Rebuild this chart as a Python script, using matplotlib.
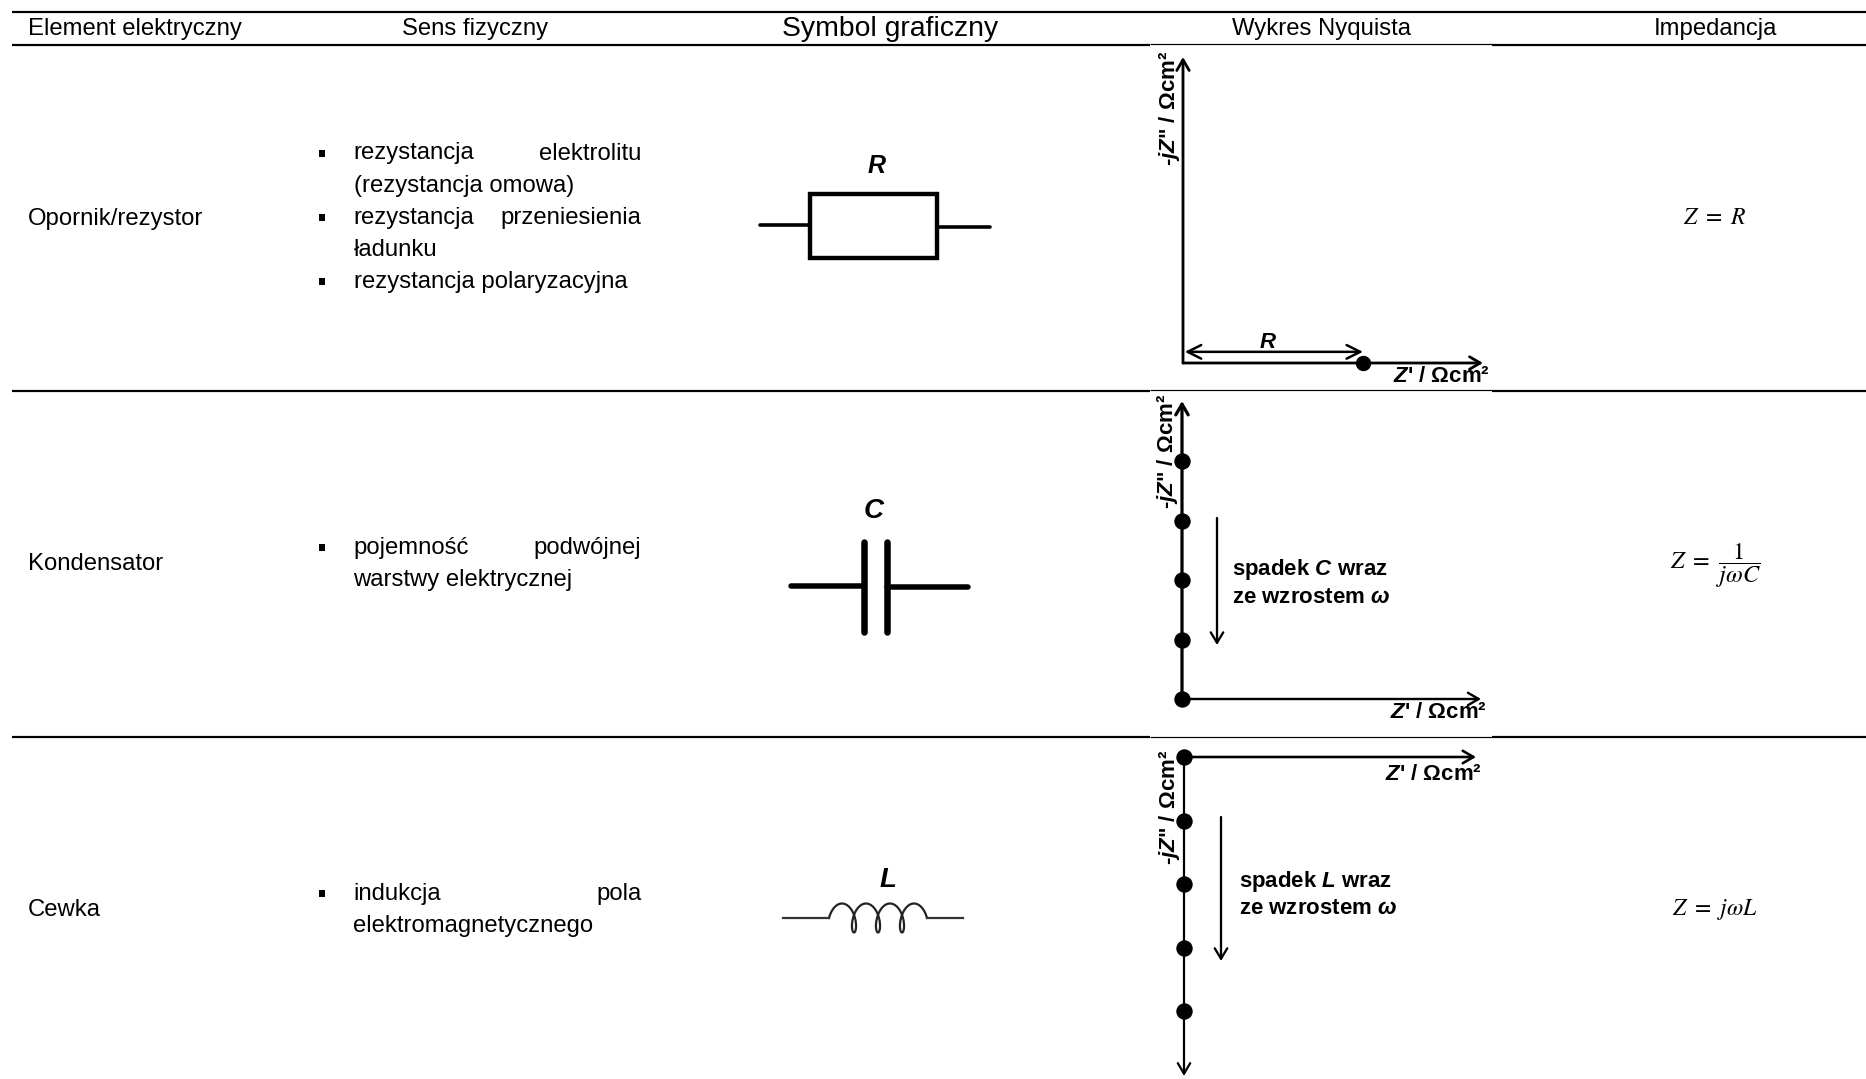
import numpy as np
import matplotlib
matplotlib.use('Agg')
import matplotlib.pyplot as plt
from matplotlib.patches import Rectangle

plt.rcParams['font.family'] = ['Liberation Sans', 'DejaVu Sans']
plt.rcParams['mathtext.fontset'] = 'custom'
plt.rcParams['mathtext.rm'] = 'Liberation Sans:bold'
plt.rcParams['mathtext.bf'] = 'Liberation Sans:bold'
plt.rcParams['mathtext.bfit'] = 'Liberation Sans:italic:bold'
plt.rcParams['mathtext.it'] = 'Liberation Sans:italic:bold'

# =============================================================================
# Dane tabeli
# =============================================================================
HEADERS = ['Element elektryczny', 'Sens fizyczny', 'Symbol graficzny',
           'Wykres Nyquista', 'Impedancja']
ELEMENTS = ['Opornik/rezystor', 'Kondensator', 'Cewka']
IMPEDANCE = [r'$Z\ =\ R$', r'$Z\ =\ \dfrac{1}{j\omega C}$', r'$Z\ =\ j\omega L$']

# (tekst, punktor, justowanie)
MEANING_R = [('rezystancja elektrolitu', True, True),
             ('(rezystancja omowa)', False, False),
             ('rezystancja przeniesienia', True, True),
             ('ładunku', False, False),
             ('rezystancja polaryzacyjna', True, False)]
MEANING_C = [('pojemność podwójnej', True, True),
             ('warstwy elektrycznej', False, False)]
MEANING_L = [('indukcja pola', True, True),
             ('elektromagnetycznego', False, False)]

# Punkty na wykresach Nyquista (jednostki umowne)
R_Z_RE = [1.0]
R_Z_IM = [0.0]
C_Z_RE = [0, 0, 0, 0, 0]
C_Z_IM = [0, 1, 2, 3, 4]
L_Z_RE = [0, 0, 0, 0, 0]
L_Z_IM = [0, -1, -2, -3, -4]

# =============================================================================
W, H = 1866, 1079
PX = 0.72  # 1 px w punktach przy dpi=100
FS = 17.2
BOLD_FS = 16.0

fig = plt.figure(figsize=(W / 100, H / 100), dpi=100)
ax = fig.add_axes([0, 0, 1, 1])
ax.set_xlim(0, W)
ax.set_ylim(H, 0)
ax.axis('off')


def rule(y, inner_thin=True):
    if inner_thin:
        ax.plot([12, 1150], [y, y], color='black', lw=2.2 * PX, solid_capstyle='butt')
        ax.plot([1150, 1492], [y - 0.3, y - 0.3], color='black', lw=1.2 * PX, solid_capstyle='butt')
        ax.plot([1492, W], [y, y], color='black', lw=2.2 * PX, solid_capstyle='butt')
    else:
        ax.plot([12, W], [y, y], color='black', lw=2.2 * PX, solid_capstyle='butt')


def meaning(lines, first_y, step=32.2):
    left, right = 353.5, 641.5
    for i, (txt, bullet, justify) in enumerate(lines):
        y = first_y + i * step
        if bullet:
            ax.add_patch(Rectangle((319, y - 4), 6, 7, color='black', lw=0))
        if justify:
            a, b = txt.rsplit(' ', 1)
            ax.text(left, y, a, fontsize=FS, ha='left', va='center')
            ax.text(right, y, b, fontsize=FS, ha='right', va='center')
        else:
            ax.text(left, y, txt, fontsize=FS, ha='left', va='center')


def panel(x0, y0, x1, y1, xmax, ymax, lw_x=2.8, lw_y=2.8):
    # Osobne osie dla wykresu Nyquista, poczatek ukladu w (x0, y0) w pikselach
    top, bottom = min(y0, y1), max(y0, y1)
    a = fig.add_axes([x0 / W, 1 - bottom / H, (x1 - x0) / W, (bottom - top) / H])
    a.set_xlim(0, xmax)
    a.set_ylim(*((0, ymax) if ymax > 0 else (ymax, 0)))
    a.axis('off')
    a.patch.set_alpha(0)
    style = dict(arrowstyle='->,head_length=0.55,head_width=0.32', color='black',
                 shrinkA=0, shrinkB=0, mutation_scale=14)
    a.annotate('', xy=(xmax, 0), xytext=(0, 0), arrowprops=dict(lw=lw_x * PX, **style), annotation_clip=False)
    a.annotate('', xy=(0, ymax), xytext=(0, 0), arrowprops=dict(lw=lw_y * PX, **style), annotation_clip=False)
    return a


def small_arrow(x, y0, y1):
    ax.annotate('', xy=(x, y1), xytext=(x, y0), annotation_clip=False,
                arrowprops=dict(arrowstyle='->,head_length=0.5,head_width=0.3', lw=2.3 * PX,
                                color='black', shrinkA=0, shrinkB=0, mutation_scale=15))


def labels(zx, zy, yx, yy):
    ax.text(zx, zy, '$\\mathbfit{Z}$\' / Ωcm²', fontsize=BOLD_FS, fontweight='bold', ha='right', va='center')
    ax.text(yx, yy, '-$\\mathbfit{jZ}$" / Ωcm²', fontsize=BOLD_FS, fontweight='bold',
            rotation=90, ha='center', va='center')


# Linie poziome i naglowki
rule(12, inner_thin=False)
for y in [44.7, 390.5, 737]:
    rule(y)

ax.text(28, 29, HEADERS[0], fontsize=FS, ha='left', va='center')
for name, cx, fs in zip(HEADERS[1:], [475, 890, 1321, 1715], [FS, 20.4, FS, FS]):
    ax.text(cx, 29, name, fontsize=fs, ha='center', va='center')

# Pierwsza kolumna i impedancja
for name, y in zip(ELEMENTS, [218.5, 564.5, 909.5]):
    ax.text(28, y, name, fontsize=FS, ha='left', va='center')
for formula, y, fs in zip(IMPEDANCE, [218, 566, 909], [17, 17.5, 17]):
    ax.text(1715, y, formula, fontsize=fs, ha='center', va='center', math_fontfamily='stix')

meaning(MEANING_R, 153.5)
meaning(MEANING_C, 548)
meaning(MEANING_L, 894)

# Symbole graficzne: opornik
sym = dict(color='black', solid_capstyle='round')
ax.add_patch(Rectangle((810, 194), 127, 64, fill=False, ec='black', lw=4.4 * PX))
ax.plot([760, 810], [225, 225], lw=3.6 * PX, **sym)
ax.plot([937, 990], [227, 227], lw=3.6 * PX, **sym)
ax.text(877, 166, 'R', fontsize=18, fontweight='bold', style='italic', ha='center', va='center')

# kondensator
ax.plot([864, 864], [542, 632], lw=6.5 * PX, **sym)
ax.plot([887, 887], [542, 632], lw=6.5 * PX, **sym)
ax.plot([791, 864], [586, 586], lw=5.5 * PX, **sym)
ax.plot([887, 968], [587, 587], lw=5.5 * PX, **sym)
ax.text(874, 511, 'C', fontsize=20, fontweight='bold', style='italic', ha='center', va='center')

# cewka
t = np.linspace(-np.pi / 2, 6.5 * np.pi, 500)
coil_x = 842 + 24 / (2 * np.pi) * t + 7 * np.sin(t)
coil_y = 918 - 14.5 * np.cos(t)
ax.plot(coil_x, coil_y, color='#222222', lw=2.2 * PX)
ax.plot([783, coil_x[0]], [918, 918], color='#333333', lw=2.2 * PX)
ax.plot([coil_x[-1], 963], [918, 918], color='#333333', lw=2.2 * PX)
ax.text(888, 880, 'L', fontsize=20, fontweight='bold', style='italic', ha='center', va='center')

# Wykres Nyquista: opornik
a1 = panel(1183, 363, 1483, 57, 300 / 180, 306 / 180)
a1.plot(R_Z_RE, R_Z_IM, 'o', color='black', ms=14 * PX, clip_on=False, zorder=5)
a1.annotate('', xy=(1.0, 0.062), xytext=(0.01, 0.062), annotation_clip=False,
            arrowprops=dict(arrowstyle='<->,head_length=0.7,head_width=0.35', lw=2.5 * PX, color='black',
                            shrinkA=0, shrinkB=0, mutation_scale=14))
ax.text(1268, 342, 'R', fontsize=16, fontweight='bold', style='italic', ha='center', va='center')
labels(1490, 377, 1169, 108)

# kondensator
a2 = panel(1182, 699, 1481, 401, 5, 298 / 59.5, lw_x=2.4, lw_y=3.2)
a2.plot(C_Z_RE, C_Z_IM, 'o', color='black', ms=15 * PX, clip_on=False, zorder=5)
small_arrow(1217, 518, 645)
ax.text(1232, 570, 'spadek $\\mathbfit{C}$ wraz', fontsize=BOLD_FS, fontweight='bold', ha='left', va='center')
ax.text(1232, 597.5, 'ze wzrostem $\\mathbfit{\\omega}$', fontsize=BOLD_FS, fontweight='bold', ha='left', va='center')
labels(1487, 713, 1167, 451)

# cewka
a3 = panel(1184, 757, 1476, 1076, 5, -319 / 63.5, lw_x=2.6, lw_y=2.2)
a3.plot(L_Z_RE, L_Z_IM, 'o', color='black', ms=15 * PX, clip_on=False, zorder=5)
small_arrow(1221, 817, 961)
ax.text(1239, 881, 'spadek $\\mathbfit{L}$ wraz', fontsize=BOLD_FS, fontweight='bold', ha='left', va='center')
ax.text(1239, 909, 'ze wzrostem $\\mathbfit{\\omega}$', fontsize=BOLD_FS, fontweight='bold', ha='left', va='center')
labels(1482, 774, 1170, 807)

fig.savefig('out.png', dpi=100, facecolor='white')
